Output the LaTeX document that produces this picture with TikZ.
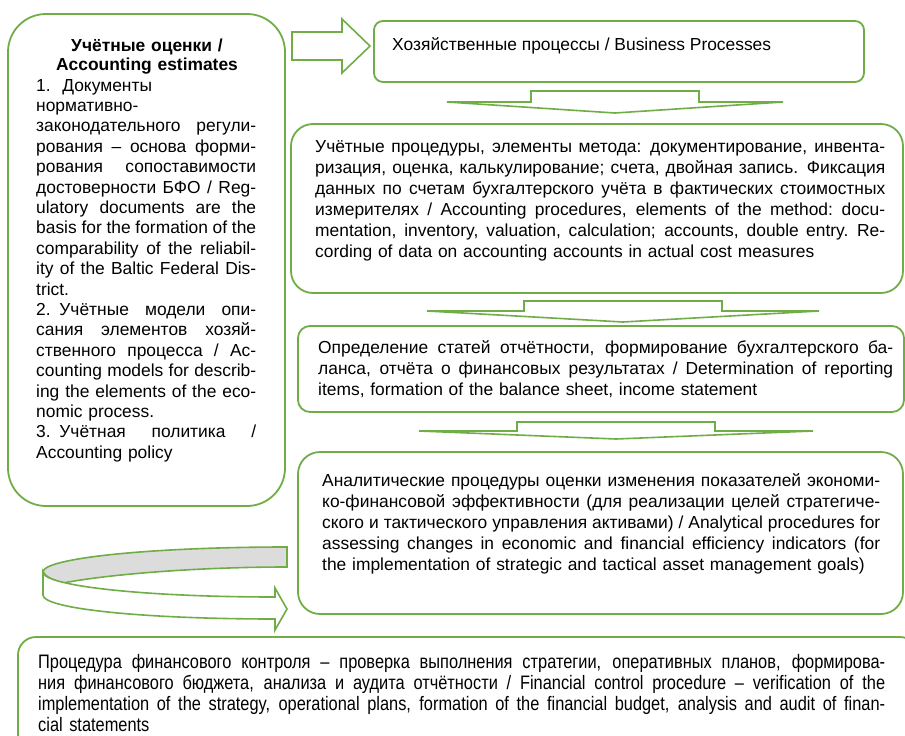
\documentclass[tikz,border=0pt]{standalone}
\usepackage{fontspec}
\setmainfont{Liberation Sans}
\newfontfamily\narrowfont[FakeStretch=0.84]{Liberation Sans}
\definecolor{leafgreen}{HTML}{70AD47}
\definecolor{ringgray}{HTML}{DCDCDC}
\newcommand{\jl}[1]{\makebox[\hsize][s]{\spaceskip=\fontdimen2\font plus 1em minus \fontdimen4\font\relax #1}\\}

\begin{document}
\begin{tikzpicture}[x=1pt,y=-1pt,
    frame box/.style={draw=leafgreen,line width=1.8pt,anchor=north west,outer sep=0pt,inner sep=0pt},
    body text/.style={anchor=base west,inner sep=0pt,align=left,font=\fontsize{17.4}{21}\selectfont},
    block arrow/.style={draw=leafgreen,line width=1.6pt,fill=white,line join=miter},
    pics/dnarrow/.style n args={4}{code={
      \draw[block arrow] (-#1,-#3) -- (#1,-#3) -- (#1,-#4) -- (#2,-#4) -- (0,0)
        -- (-#2,-#4) -- (-#1,-#4) -- cycle;}}]
  \useasboundingbox (0,0) rectangle (905,736);
  \clip (0,0) rectangle (905,736);

  \node[frame box,rounded corners=38,minimum width=277,minimum height=492] (lbox) at (8,14) {};
  \node[frame box,rounded corners=9,minimum width=490,minimum height=61] (b1) at (374,21) {};
  \node[frame box,rounded corners=22,minimum width=612,minimum height=169] (b2) at (291,124) {};
  \node[frame box,rounded corners=12,minimum width=606,minimum height=86] (b3) at (298,326) {};
  \node[frame box,rounded corners=22,minimum width=605,minimum height=162] (b4) at (298,452) {};
  \node[frame box,rounded corners=18,minimum width=900,minimum height=130] (b5) at (18,637) {};

  % block arrows
  \draw[block arrow] (292,32) -- (342,32) -- (342,19) -- (370,46) -- (342,73) -- (342,60)
    -- (292,60) -- cycle;
  \pic at ([shift={(-4,31)}]b1.south) {dnarrow={84}{168}{22}{11}};
  \pic at ([shift={(26,29)}]b2.south) {dnarrow={99}{196}{21}{11}};
  \pic at ([shift={(15,27)}]b3.south) {dnarrow={99}{197}{17}{8}};

  % feedback ring
  \draw[block arrow,fill=ringgray] (287,547) .. controls (152,547) and (43,558) .. (43,572)
    .. controls (46,577) and (53,580) .. (63,583) .. controls (110,574) and (200,567) .. (287,567) -- cycle;
  \draw[block arrow] (43,572) .. controls (43,586) and (145,597) .. (275,597) -- (275,588)
    -- (287,609) -- (275,630) -- (275,619) .. controls (145,619) and (43,609) .. (43,595) -- cycle;

  \node[body text,anchor=base,align=center,text width=220,
        font=\bfseries\fontsize{17.4}{19}\selectfont] (ltitle) at ([shift={(139,37)}]lbox.north west)
    {Учётные оценки /\\ Accounting estimates};
  \node[body text,text width=220,font=\fontsize{17.4}{20.4}\selectfont] (ltext) at ([shift={(28,77)}]lbox.north west) {
    1.\ \ Документы\\
    нормативно-\\
    \jl{законодательного регули-}
    \jl{рования – основа форми-}
    \jl{рования сопоставимости}
    \jl{достоверности БФО / Reg-}
    \jl{ulatory documents are the}
    \jl{basis for the formation of the}
    \jl{comparability of the reliabil-}
    \jl{ity of the Baltic Federal Dis-}
    trict.\\
    \jl{2. Учётные модели опи-}
    \jl{сания элементов хозяй-}
    \jl{ственного процесса / Ac-}
    \jl{counting models for describ-}
    \jl{ing the elements of the eco-}
    nomic process.\\
    \jl{3. Учётная политика /}
    Accounting policy};

  \node[body text] (t1) at ([shift={(18,29)}]b1.north west)
    {Хозяйственные процессы / Business Processes};
  \node[body text,text width=570] (t2) at ([shift={(24,28)}]b2.north west) {
    \jl{Учётные процедуры, элементы метода: документирование, инвента-}
    \jl{ризация, оценка, калькулирование; счета, двойная запись. Фиксация}
    \jl{данных по счетам бухгалтерского учёта в фактических стоимостных}
    \jl{измерителях / Accounting procedures, elements of the method: docu-}
    \jl{mentation, inventory, valuation, calculation; accounts, double entry. Re-}
    cording of data on accounting accounts in actual cost measures};
  \node[body text,text width=575] (t3) at ([shift={(20,27)}]b3.north west) {
    \jl{Определение статей отчётности, формирование бухгалтерского ба-}
    \jl{ланса, отчёта о финансовых результатах / Determination of reporting}
    items, formation of the balance sheet, income statement};
  \node[body text,text width=558] (t4) at ([shift={(24,34)}]b4.north west) {
    \jl{Аналитические процедуры оценки изменения показателей экономи-}
    \jl{ко-финансовой эффективности (для реализации целей стратегиче-}
    \jl{ского и тактического управления активами) / Analytical procedures for}
    \jl{assessing changes in economic and financial efficiency indicators (for}
    the implementation of strategic and tactical asset management goals)};
  \node[body text,text width=847,font=\narrowfont\fontsize{19.5}{21.3}\selectfont] (t5)
      at ([shift={(20,31)}]b5.north west) {
    \jl{Процедура финансового контроля – проверка выполнения стратегии, оперативных планов, формирова-}
    \jl{ния финансового бюджета, анализа и аудита отчётности / Financial control procedure – verification of the}
    \jl{implementation of the strategy, operational plans, formation of the financial budget, analysis and audit of finan-}
    cial statements};
\end{tikzpicture}
\end{document}
